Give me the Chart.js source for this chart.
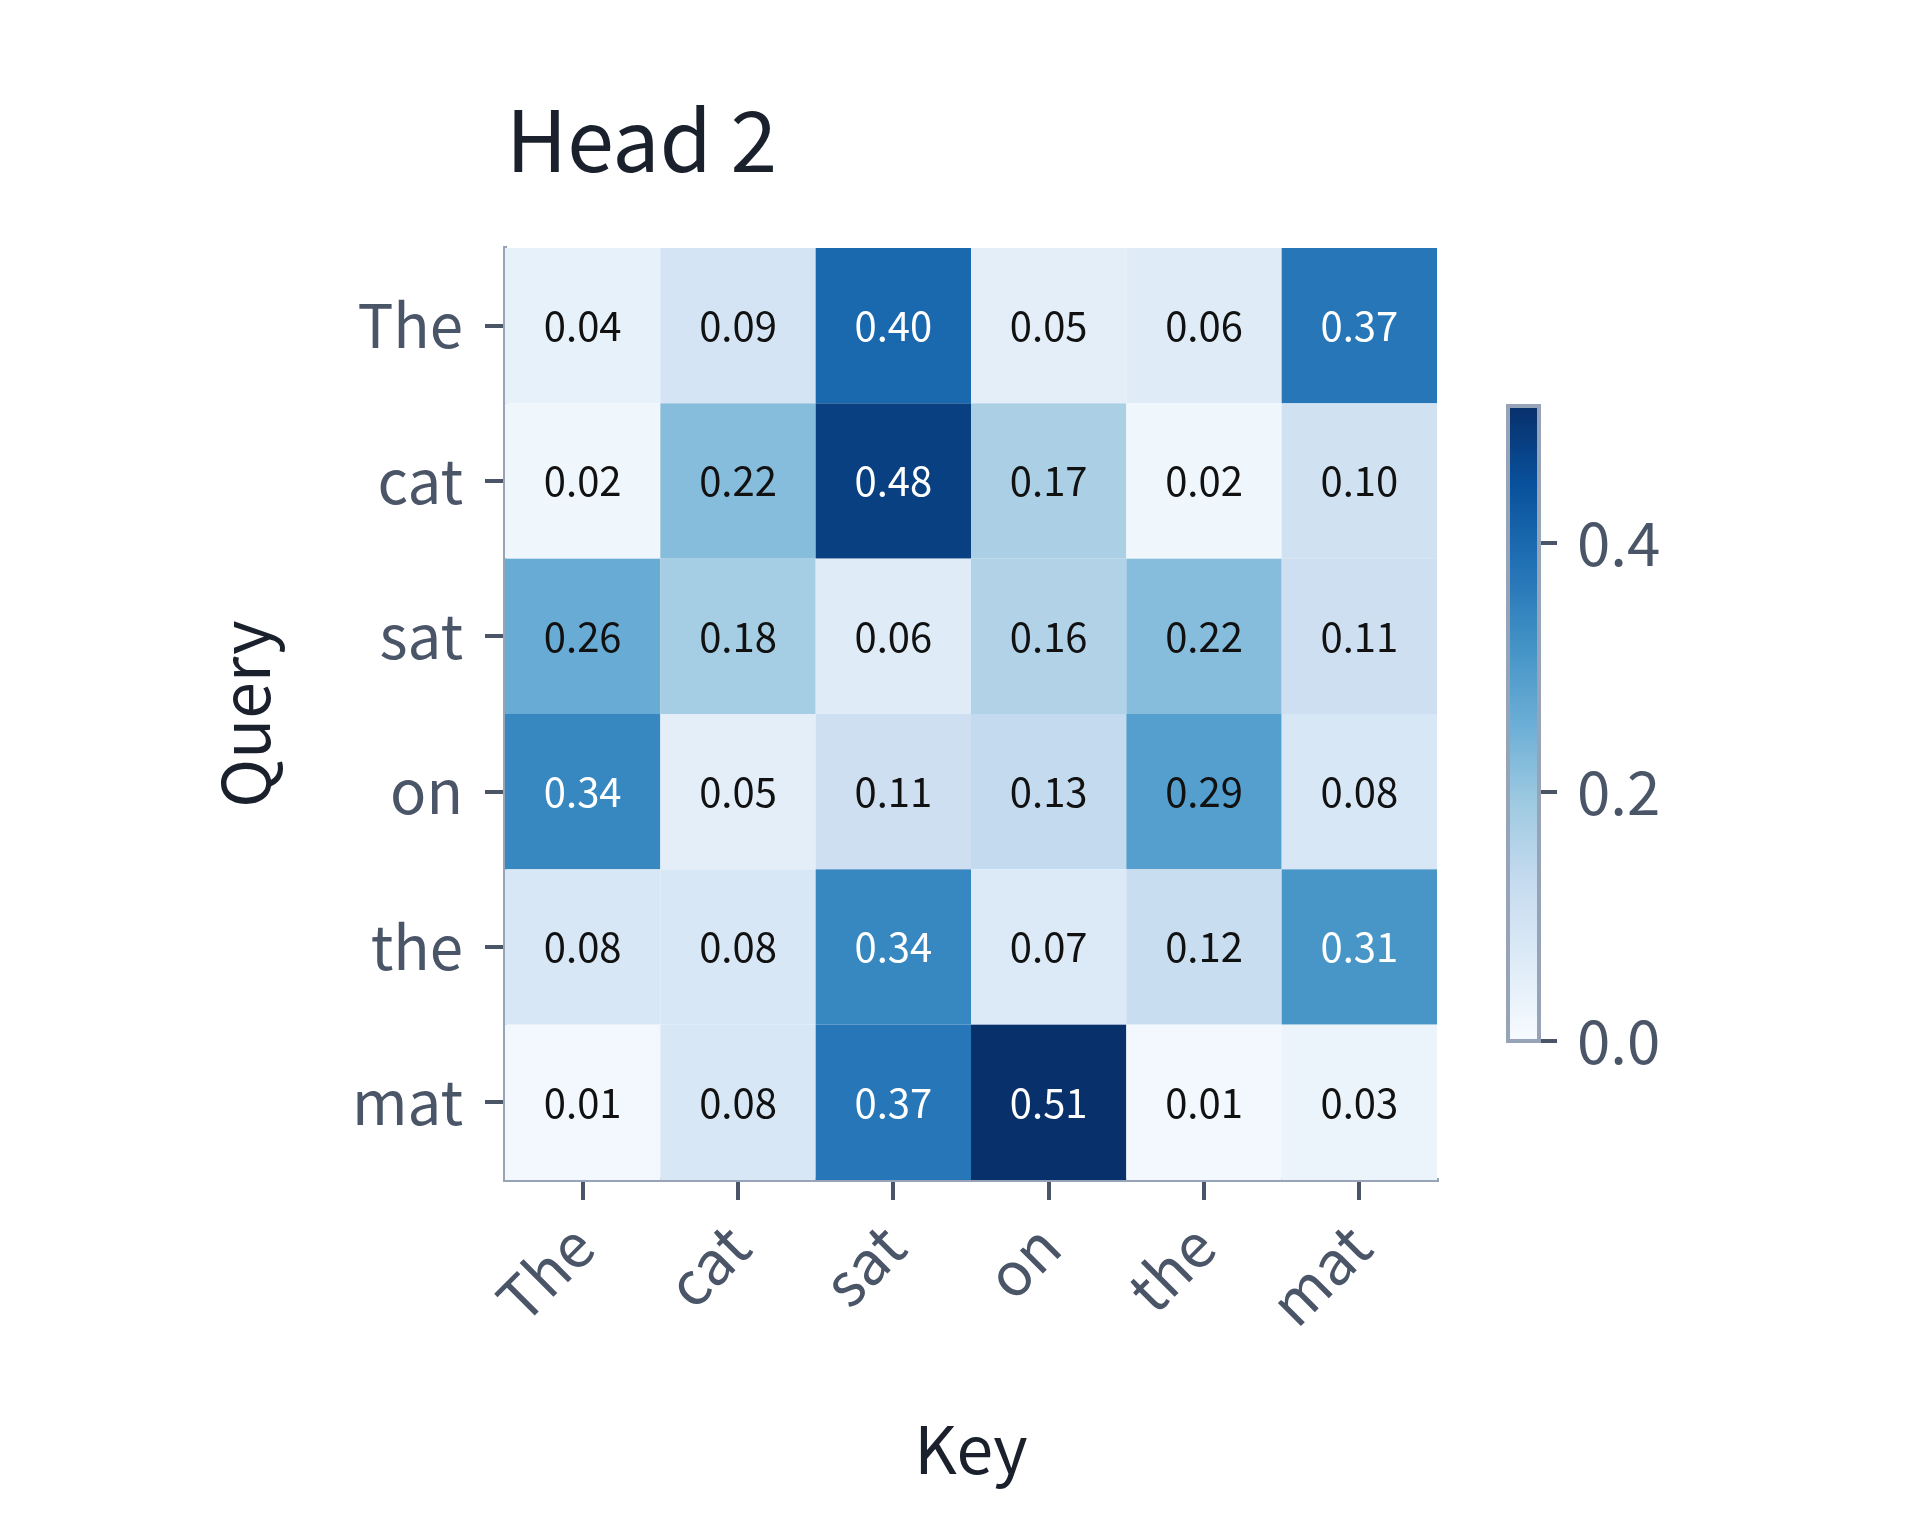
<!DOCTYPE html>
<html>
<head>
<meta charset="utf-8">
<script src="https://cdn.jsdelivr.net/npm/chart.js@4.4.1/dist/chart.umd.min.js"></script>
<style>
  body { margin: 0; background: #fff; }
  #wrap { position: relative; width: 1920px; height: 1536px; }
  #main { position: absolute; left: 0; top: 0; }
  #cbar { position: absolute; left: 1480px; top: 350px; }
</style>
</head>
<body>
<div id="wrap">
  <canvas id="main" width="1920" height="1536"></canvas>
  <canvas id="cbar" width="300" height="750"></canvas>
</div>
<script>
// tokens and attention weights (rows = query, cols = key)
const queries = ['The', 'cat', 'sat', 'on', 'the', 'mat'];
const keys = ['The', 'cat', 'sat', 'on', 'the', 'mat'];
const rowThe = [0.04, 0.09, 0.40, 0.05, 0.06, 0.37];
const rowCat = [0.02, 0.22, 0.48, 0.17, 0.02, 0.10];
const rowSat = [0.26, 0.18, 0.06, 0.16, 0.22, 0.11];
const rowOn  = [0.34, 0.05, 0.11, 0.13, 0.29, 0.08];
const rowThe2 = [0.08, 0.08, 0.34, 0.07, 0.12, 0.31];
const rowMat = [0.01, 0.08, 0.37, 0.51, 0.01, 0.03];
const weights = [rowThe, rowCat, rowSat, rowOn, rowThe2, rowMat];
const cbarTicks = [0, 0.2, 0.4];
const vmin = 0, vmax = 0.51;

const FONT = '"Noto Sans CJK KR", "Noto Sans", sans-serif';
const TICK_COLOR = '#4a5568';
const SPINE = '#97a3b6';

// matplotlib Blues
const blues = ['#f7fbff','#deebf7','#c6dbef','#9ecae1','#6baed6','#4292c6','#2171b5','#08519c','#08306b'];
function hex(h) { return [1,3,5].map(i => parseInt(h.substr(i,2),16)); }
function blue(t) {
  t = Math.max(0, Math.min(1, t)) * (blues.length - 1);
  let i = Math.min(Math.floor(t), blues.length - 2), f = t - i;
  let a = hex(blues[i]), b = hex(blues[i+1]);
  return 'rgb(' + a.map((v,k) => Math.round(v + (b[k]-v)*f)).join(',') + ')';
}

let points = [];
weights.forEach(function (row, r) {
  row.forEach(function (v, c) { points.push({x: c, y: r, v: v}); });
});

const cellPlugin = {
  id: 'cells',
  beforeDatasetsDraw(chart) {
    const ctx = chart.ctx, xs = chart.scales.x, ys = chart.scales.y;
    ctx.save();
    points.forEach(function (p) {
      let x0 = xs.getPixelForValue(p.x - 0.5), x1 = xs.getPixelForValue(p.x + 0.5);
      let y0 = ys.getPixelForValue(p.y - 0.5), y1 = ys.getPixelForValue(p.y + 0.5);
      ctx.fillStyle = blue((p.v - vmin) / (vmax - vmin));
      ctx.fillRect(x0, y0, x1 - x0, y1 - y0);
      ctx.fillStyle = p.v > 0.3 ? '#ffffff' : '#111111';
      ctx.font = '40px ' + FONT;
      ctx.textAlign = 'center';
      ctx.textBaseline = 'middle';
      ctx.fillText(p.v.toFixed(2), (x0 + x1) / 2, (y0 + y1) / 2);
    });
    ctx.restore();
  },
  afterDraw(chart) {
    const ctx = chart.ctx;
    ctx.save();
    ctx.fillStyle = '#1a202c';
    ctx.font = '84px ' + FONT;
    ctx.textAlign = 'left';
    ctx.textBaseline = 'alphabetic';
    ctx.fillText('Head 2', 506, 172);
    ctx.font = '66px ' + FONT;
    ctx.textAlign = 'center';
    ctx.fillText('Key', 971, 1474);
    ctx.translate(270, 714);
    ctx.rotate(-Math.PI / 2);
    ctx.textBaseline = 'alphabetic';
    ctx.fillText('Query', 0, 0);
    ctx.restore();
  }
};

function intTicks(scale) {
  scale.ticks = [0,1,2,3,4,5].map(v => ({value: v}));
}

new Chart(document.getElementById('main'), {
  type: 'scatter',
  data: { datasets: [{ data: points, pointRadius: 0 }] },
  options: {
    responsive: false,
    devicePixelRatio: 1,
    animation: false,
    layout: { padding: { left: 0, top: 248, right: 1920 - 1437, bottom: 0 } },
    plugins: { legend: { display: false }, tooltip: { enabled: false } },
    scales: {
      x: {
        type: 'linear', min: -0.5, max: 5.5,
        afterBuildTicks: intTicks,
        afterFit(s) { s.height = 1536 - 1180 - 0; },
        ticks: {
          callback: v => keys[v],
          minRotation: 45, maxRotation: 45,
          font: { size: 60, family: FONT }, color: TICK_COLOR, padding: 10
        },
        grid: { drawOnChartArea: false, tickLength: 20, color: TICK_COLOR, lineWidth: 4 },
        border: { color: SPINE, width: 4 }
      },
      y: {
        type: 'linear', min: -0.5, max: 5.5, reverse: true,
        afterBuildTicks: intTicks,
        afterFit(s) { s.width = 505; },
        ticks: {
          callback: v => queries[v],
          font: { size: 60, family: FONT }, color: TICK_COLOR, padding: 22
        },
        grid: { drawOnChartArea: false, tickLength: 20, color: TICK_COLOR, lineWidth: 4 },
        border: { color: SPINE, width: 4 }
      }
    }
  },
  plugins: [cellPlugin]
});

// colorbar
const gradPlugin = {
  id: 'grad',
  beforeDatasetsDraw(chart) {
    const ctx = chart.ctx, ys = chart.scales.y, a = chart.chartArea;
    let yb = ys.getPixelForValue(vmin), yt = ys.getPixelForValue(vmax);
    let g = ctx.createLinearGradient(0, yb, 0, yt);
    blues.forEach((c, i) => g.addColorStop(i / (blues.length - 1), c));
    ctx.save();
    ctx.fillStyle = g;
    ctx.fillRect(a.left, yt, a.right - a.left, yb - yt);
    ctx.strokeStyle = SPINE;
    ctx.lineWidth = 4;
    ctx.strokeRect(a.left, yt, a.right - a.left, yb - yt);
    ctx.restore();
  }
};

new Chart(document.getElementById('cbar'), {
  type: 'bar',
  data: { labels: [''], datasets: [{ data: [0], backgroundColor: 'rgba(0,0,0,0)' }] },
  options: {
    responsive: false,
    devicePixelRatio: 1,
    animation: false,
    layout: { padding: { left: 28, top: 40, right: 0, bottom: 59 } },
    plugins: { legend: { display: false }, tooltip: { enabled: false } },
    scales: {
      x: { display: false },
      y: {
        position: 'right', min: vmin, max: vmax,
        afterBuildTicks(s) { s.ticks = cbarTicks.map(v => ({value: v})); },
        afterFit(s) { s.width = 300 - 59; },
        ticks: {
          callback: v => v.toFixed(1),
          font: { size: 60, family: FONT }, color: TICK_COLOR, padding: 20
        },
        grid: { drawOnChartArea: false, tickLength: 18, color: TICK_COLOR, lineWidth: 4 },
        border: { display: false }
      }
    }
  },
  plugins: [gradPlugin]
});
</script>
</body>
</html>
